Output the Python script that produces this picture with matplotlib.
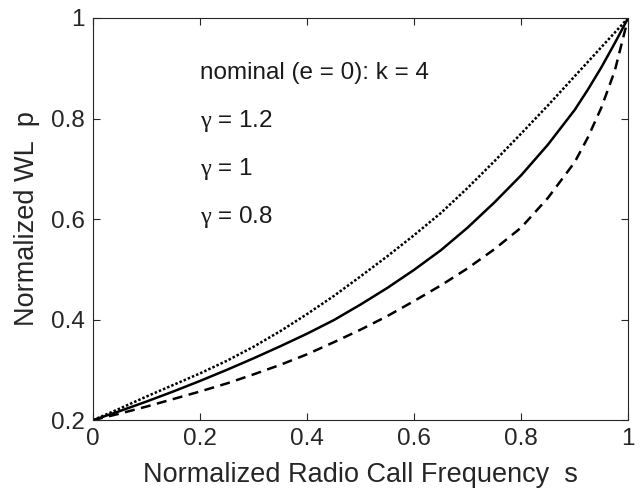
import numpy as np
import matplotlib
matplotlib.use("Agg")
import matplotlib.pyplot as plt

# values
s = [0.0, 0.05, 0.1, 0.15, 0.2, 0.25, 0.3, 0.35, 0.4, 0.45, 0.5, 0.55, 0.6, 0.65,
     0.7, 0.75, 0.8, 0.85, 0.9, 0.925, 0.95, 0.975, 1.0]
p_gamma12 = [0.2, 0.223, 0.247, 0.270, 0.293, 0.318, 0.346, 0.377, 0.411, 0.447, 0.486, 0.526,
             0.568, 0.612, 0.662, 0.715, 0.770, 0.826, 0.884, 0.913, 0.942, 0.971, 1.0]
p_gamma10 = [0.2, 0.218, 0.237, 0.257, 0.278, 0.300, 0.323, 0.347, 0.372, 0.399, 0.430, 0.463,
             0.499, 0.538, 0.583, 0.633, 0.687, 0.748, 0.817, 0.858, 0.902, 0.950, 1.0]
p_gamma08 = [0.2, 0.213, 0.227, 0.242, 0.257, 0.273, 0.291, 0.310, 0.331, 0.355, 0.380, 0.407,
             0.437, 0.468, 0.502, 0.540, 0.583, 0.642, 0.713, 0.763, 0.822, 0.895, 1.0]

labels = ["nominal (e = 0): k = 4", r"$\mathrm{\gamma}$ = 1.2", r"$\mathrm{\gamma}$ = 1", r"$\mathrm{\gamma}$ = 0.8"]
label_y = [0.89, 0.795, 0.70, 0.604]
xticks = [0, 0.2, 0.4, 0.6, 0.8, 1]
yticks = [0.2, 0.4, 0.6, 0.8, 1]

plt.rcParams['font.family'] = ['Liberation Sans', 'DejaVu Sans']
plt.rcParams['mathtext.fontset'] = 'custom'
plt.rcParams['mathtext.rm'] = 'Liberation Serif'

fig = plt.figure(figsize=(6.41, 4.99), dpi=100)
ax = fig.add_axes([0.145, 0.158, 0.835, 0.806])

ax.plot(s, p_gamma12, color='black', lw=1.8, linestyle=(0, (1, 0.8)))
ax.plot(s, p_gamma10, color='black', lw=1.8, linestyle='-')
ax.plot(s, p_gamma08, color='black', lw=1.8, linestyle=(0, (4, 2.6)))

for txt, yy in zip(labels, label_y):
    ax.text(0.2, yy, txt, fontsize=17.5, va='center', ha='left', color='#1a1a1a')

ax.set_xlim(0, 1)
ax.set_ylim(0.2, 1)
ax.set_xticks(xticks)
ax.set_xticklabels(['0', '0.2', '0.4', '0.6', '0.8', '1'])
ax.set_yticks(yticks)
ax.set_yticklabels(['0.2', '0.4', '0.6', '0.8', '1'])
ax.tick_params(direction='in', length=5, width=0.8, labelsize=17.5, colors='#262626',
               top=True, right=True, pad=6)
for sp in ax.spines.values():
    sp.set_color('#262626')
    sp.set_linewidth(0.8)

ax.set_xlabel('Normalized Radio Call Frequency  s', fontsize=19.5, color='#262626', labelpad=8)
ax.set_ylabel('Normalized WL  p', fontsize=19.5, color='#262626', labelpad=8)

fig.savefig('out.png', dpi=100)
